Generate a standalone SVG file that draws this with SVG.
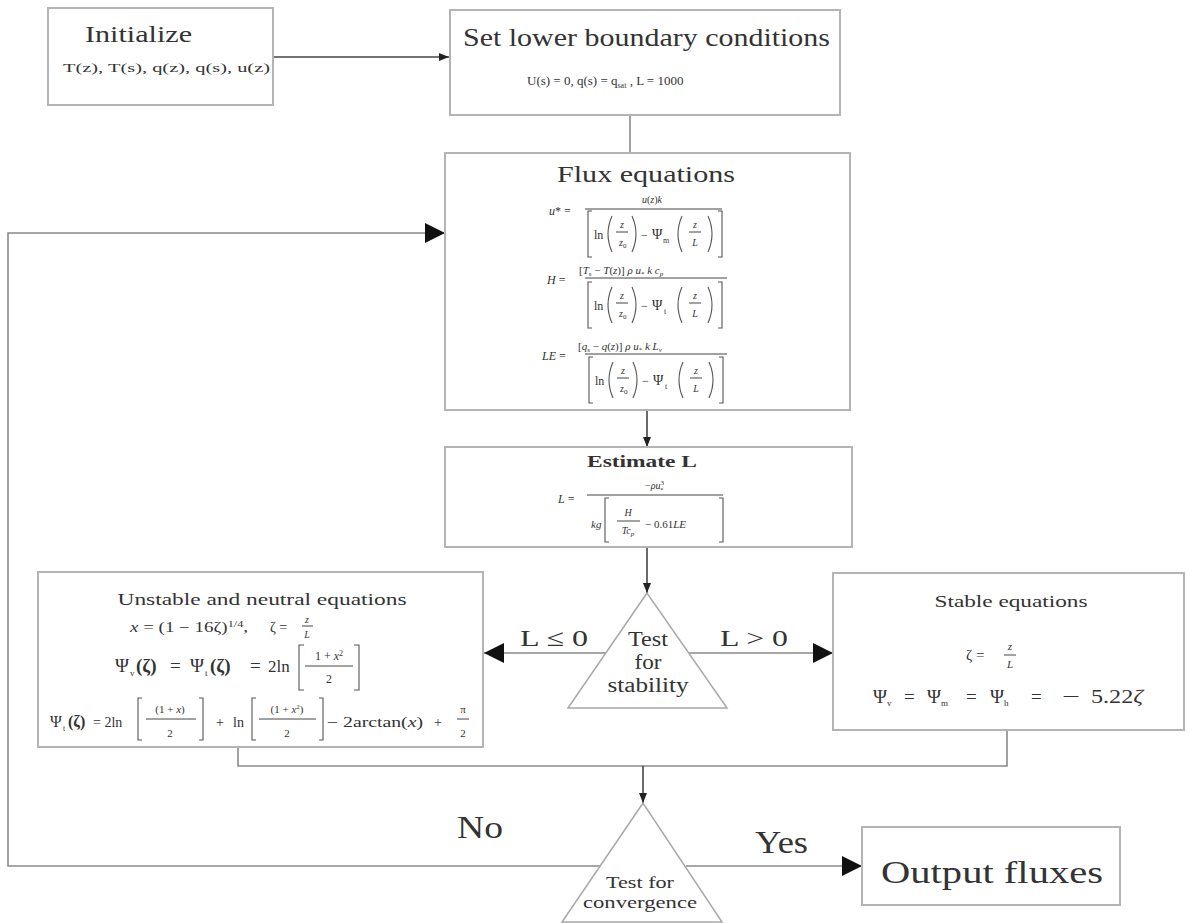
<svg xmlns="http://www.w3.org/2000/svg" width="1188" height="923" viewBox="0 0 1188 923">
<defs>
<style>
.box{fill:#fff;stroke:#b4b4b4;stroke-width:2}
.tri{fill:#fff;stroke:#a8a8a8;stroke-width:1.5}
.conn{fill:none;stroke:#8a8a8a;stroke-width:1.6}
.dark{stroke:#444}
.t{font-family:"Liberation Serif","Times New Roman",serif;fill:#333}
.i{font-style:italic}
.bar{stroke:#444;stroke-width:1}
.br{fill:none;stroke:#555;stroke-width:1.1}
</style>
<marker id="ah" viewBox="0 0 10 8" refX="10" refY="4" markerWidth="10" markerHeight="8" markerUnits="userSpaceOnUse" orient="auto"><path d="M0,0 L10,4 L0,8 z" fill="#222"/></marker>
<marker id="big" viewBox="0 0 20 20" refX="20" refY="10" markerWidth="20" markerHeight="20" markerUnits="userSpaceOnUse" orient="auto"><path d="M0,0 L20,10 L0,20 z" fill="#111"/></marker>
<g id="den">
<path class="br" d="M5,0 H1 V46 H5"/>
<path class="br" d="M131,0 H135 V46 H131"/>
<text class="t" x="7" y="28" font-size="12">ln</text>
<path class="br" d="M25,5 Q17,23 25,41"/>
<path class="br" d="M45,5 Q53,23 45,41"/>
<text class="t i" x="35" y="17" font-size="10" text-anchor="middle">z</text>
<line class="bar" x1="29" y1="21" x2="41" y2="21"/>
<text class="t i" x="32" y="35" font-size="10">z<tspan font-size="7" dy="2" font-style="normal">0</tspan></text>
<text class="t" x="54" y="28" font-size="12">−</text>
<text class="t" x="65" y="28" font-size="14">Ψ</text>
<path class="br" d="M95,5 Q87,23 95,41"/>
<path class="br" d="M121,5 Q129,23 121,41"/>
<text class="t i" x="108" y="17" font-size="10" text-anchor="middle">z</text>
<line class="bar" x1="102" y1="21" x2="114" y2="21"/>
<text class="t i" x="108" y="35" font-size="10" text-anchor="middle">L</text>
</g>
</defs>
<rect width="1188" height="923" fill="#fff"/>

<g id="connectors">
<path class="conn dark" d="M273,57 H449" marker-end="url(#ah)"/>
<path class="conn" d="M630,115 V153"/>
<path class="conn dark" d="M647,410 V447" marker-end="url(#ah)"/>
<path class="conn dark" d="M647,547 V593" marker-end="url(#ah)"/>
<path class="conn" d="M606,653 H484" marker-end="url(#big)"/>
<path class="conn" d="M688,653 H833" marker-end="url(#big)"/>
<path class="conn" d="M238,747 V766 H1007 V730"/>
<path class="conn dark" d="M643,766 V803" marker-end="url(#ah)"/>
<path class="conn" d="M600,866 H8 V233 H445" marker-end="url(#big)"/>
<path class="conn" d="M686,866 H862" marker-end="url(#big)"/>
</g>

<g id="initialize">
<rect class="box" x="48" y="8" width="225" height="97"/>
<text class="t" x="85" y="42" font-size="24" textLength="107" lengthAdjust="spacingAndGlyphs">Initialize</text>
<text class="t" x="63" y="72" font-size="12" textLength="207" lengthAdjust="spacingAndGlyphs">T(z), T(s), q(z), q(s),  u(z)</text>
</g>

<g id="boundary">
<rect class="box" x="450" y="10" width="390" height="105"/>
<text class="t" x="463" y="46" font-size="25" textLength="367" lengthAdjust="spacingAndGlyphs">Set lower boundary conditions</text>
<text class="t" x="527" y="85" font-size="13">U(s) = 0, q(s) = q<tspan font-size="8" dy="3">sat</tspan><tspan dy="-3"> , L = 1000</tspan></text>
</g>

<g id="flux">
<rect class="box" x="445" y="153" width="405" height="257"/>
<text class="t" x="557" y="182" font-size="24" textLength="178" lengthAdjust="spacingAndGlyphs">Flux equations</text>
<text class="t" x="549" y="215" font-size="12"><tspan class="i">u</tspan>* =</text>
<text class="t" x="652" y="203" font-size="10" text-anchor="middle"><tspan class="i">u</tspan>(<tspan class="i">z</tspan>)<tspan class="i">k</tspan></text>
<line class="bar" x1="585" y1="209" x2="722" y2="209"/>
<use href="#den" x="587" y="211"/>
<text class="t" x="663" y="243" font-size="8">m</text>
<text class="t" x="547" y="284" font-size="12"><tspan class="i">H</tspan> =</text>
<text class="t" x="579" y="274" font-size="11">[<tspan class="i">T</tspan><tspan font-size="7" dy="2">s</tspan><tspan dy="-2"> − </tspan><tspan class="i">T</tspan>(<tspan class="i">z</tspan>)] <tspan class="i">ρ u</tspan><tspan font-size="7" dy="2">*</tspan><tspan dy="-2"> </tspan><tspan class="i">k c</tspan><tspan font-size="7" dy="2" class="i">p</tspan></text>
<line class="bar" x1="585" y1="278" x2="727" y2="278"/>
<use href="#den" x="587" y="282"/>
<text class="t" x="664" y="314" font-size="8">t</text>
<text class="t" x="542" y="360" font-size="12"><tspan class="i">LE</tspan> =</text>
<text class="t" x="578" y="350" font-size="11">[<tspan class="i">q</tspan><tspan font-size="7" dy="2">s</tspan><tspan dy="-2"> − </tspan><tspan class="i">q</tspan>(<tspan class="i">z</tspan>)] <tspan class="i">ρ u</tspan><tspan font-size="7" dy="2">*</tspan><tspan dy="-2"> </tspan><tspan class="i">k L</tspan><tspan font-size="7" dy="2" class="i">v</tspan></text>
<line class="bar" x1="585" y1="354" x2="727" y2="354"/>
<use href="#den" x="588" y="357"/>
<text class="t" x="665" y="389" font-size="8">t</text>
</g>

<g id="estimate">
<rect class="box" x="445" y="447" width="407" height="100"/>
<text class="t" x="642" y="467" font-size="17" font-weight="bold" text-anchor="middle" textLength="110" lengthAdjust="spacingAndGlyphs">Estimate L</text>
<text class="t" x="558" y="503" font-size="12"><tspan class="i">L</tspan> =</text>
<text class="t" x="645" y="489" font-size="10">−<tspan class="i">ρu</tspan><tspan font-size="7" dy="-4">3</tspan><tspan font-size="7" dx="-4" dy="7">*</tspan></text>
<line class="bar" x1="587" y1="495" x2="723" y2="495"/>
<text class="t i" x="591" y="528" font-size="11">kg</text>
<path class="br" d="M609,498 H605 V542 H609"/>
<path class="br" d="M719,498 H723 V542 H719"/>
<text class="t i" x="628" y="516" font-size="10" text-anchor="middle">H</text>
<line class="bar" x1="617" y1="521" x2="640" y2="521"/>
<text class="t i" x="628" y="534" font-size="10" text-anchor="middle">Tc<tspan font-size="7" dy="2">p</tspan></text>
<text class="t" x="645" y="528" font-size="11">− 0.61<tspan class="i">LE</tspan></text>
</g>

<g id="stability">
<polygon class="tri" points="647,593 568,708 727,708"/>
<text class="t" x="648" y="646" font-size="20" text-anchor="middle" textLength="40" lengthAdjust="spacingAndGlyphs">Test</text>
<text class="t" x="648" y="669" font-size="20" text-anchor="middle" textLength="27" lengthAdjust="spacingAndGlyphs">for</text>
<text class="t" x="648" y="692" font-size="20" text-anchor="middle" textLength="81" lengthAdjust="spacingAndGlyphs">stability</text>
</g>

<g id="unstable">
<rect class="box" x="38" y="572" width="445" height="175"/>
<text class="t" x="262" y="605" font-size="16" text-anchor="middle" textLength="289" lengthAdjust="spacingAndGlyphs">Unstable and neutral equations</text>
<text class="t" x="130" y="632" font-size="14" textLength="118" lengthAdjust="spacingAndGlyphs"><tspan class="i">x</tspan> = (1 − 16ζ)<tspan font-size="9" dy="-5">1/4</tspan><tspan dy="5">,</tspan></text>
<text class="t" x="270" y="632" font-size="14">ζ =</text>
<text class="t i" x="307" y="623" font-size="10" text-anchor="middle">z</text>
<line class="bar" x1="302" y1="626" x2="313" y2="626"/>
<text class="t i" x="307" y="638" font-size="10" text-anchor="middle">L</text>
<text class="t" x="115" y="672" font-size="19">Ψ</text>
<text class="t" x="130" y="676" font-size="9">v</text>
<text class="t" x="136" y="672" font-size="19" font-weight="bold">(ζ)</text>
<text class="t" x="170" y="672" font-size="19">=</text>
<text class="t" x="190" y="672" font-size="19">Ψ</text>
<text class="t" x="205" y="676" font-size="9">t</text>
<text class="t" x="210" y="672" font-size="19" font-weight="bold">(ζ)</text>
<text class="t" x="250" y="672" font-size="19">=</text>
<text class="t" x="268" y="672" font-size="17">2ln</text>
<path class="br" d="M304,645 H299 V690 H304"/>
<path class="br" d="M354,645 H359 V690 H354"/>
<text class="t" x="329" y="660" font-size="12" text-anchor="middle">1 + <tspan class="i">x</tspan><tspan font-size="8" dy="-4">2</tspan></text>
<line class="bar" x1="305" y1="666" x2="353" y2="666"/>
<text class="t" x="329" y="683" font-size="12" text-anchor="middle">2</text>
<text class="t" x="50" y="727" font-size="16">Ψ</text>
<text class="t" x="63" y="731" font-size="8">t</text>
<text class="t" x="68" y="727" font-size="16" font-weight="bold">(ζ)</text>
<text class="t" x="93" y="727" font-size="14">= 2ln</text>
<path class="br" d="M142,698 H138 V740 H142"/>
<path class="br" d="M199,698 H203 V740 H199"/>
<text class="t" x="170" y="713" font-size="11" text-anchor="middle">(1 + <tspan class="i">x</tspan>)</text>
<line class="bar" x1="146" y1="719" x2="196" y2="719"/>
<text class="t" x="170" y="737" font-size="11" text-anchor="middle">2</text>
<text class="t" x="220" y="727" font-size="14" text-anchor="middle">+</text>
<text class="t" x="233" y="727" font-size="14">ln</text>
<path class="br" d="M256,698 H252 V740 H256"/>
<path class="br" d="M319,698 H323 V740 H319"/>
<text class="t" x="287" y="713" font-size="11" text-anchor="middle">(1 + <tspan class="i">x</tspan><tspan font-size="7" dy="-4">2</tspan><tspan dy="4">)</tspan></text>
<line class="bar" x1="259" y1="719" x2="316" y2="719"/>
<text class="t" x="287" y="737" font-size="11" text-anchor="middle">2</text>
<text class="t" x="327" y="727" font-size="14" textLength="96" lengthAdjust="spacingAndGlyphs">− 2arctan(<tspan class="i">x</tspan>)</text>
<text class="t" x="438" y="727" font-size="14" text-anchor="middle">+</text>
<text class="t" x="463" y="713" font-size="11" text-anchor="middle">π</text>
<line class="bar" x1="457" y1="719" x2="469" y2="719"/>
<text class="t" x="463" y="737" font-size="11" text-anchor="middle">2</text>
</g>

<g id="stable">
<rect class="box" x="833" y="573" width="351" height="157"/>
<text class="t" x="1011" y="607" font-size="16" text-anchor="middle" textLength="153" lengthAdjust="spacingAndGlyphs">Stable equations</text>
<text class="t" x="966" y="660" font-size="15">ζ =</text>
<text class="t i" x="1010" y="650" font-size="11" text-anchor="middle">z</text>
<line class="bar" x1="1004" y1="655" x2="1016" y2="655"/>
<text class="t i" x="1010" y="668" font-size="11" text-anchor="middle">L</text>
<text class="t" x="873" y="703" font-size="19">Ψ<tspan font-size="9" dy="3">v</tspan></text>
<text class="t" x="904" y="703" font-size="19">=</text>
<text class="t" x="927" y="703" font-size="19">Ψ<tspan font-size="9" dy="3">m</tspan></text>
<text class="t" x="966" y="703" font-size="19">=</text>
<text class="t" x="990" y="703" font-size="19">Ψ<tspan font-size="9" dy="3">h</tspan></text>
<text class="t" x="1031" y="703" font-size="19">=</text>
<text class="t" x="1062" y="703" font-size="19" textLength="18" lengthAdjust="spacingAndGlyphs">−</text>
<text class="t" x="1091" y="703" font-size="19" textLength="52" lengthAdjust="spacingAndGlyphs">5.22<tspan class="i">ζ</tspan></text>
</g>

<g id="labels">
<text class="t" x="520" y="646" font-size="24" textLength="68" lengthAdjust="spacingAndGlyphs">L ≤ 0</text>
<text class="t" x="720" y="646" font-size="24" textLength="68" lengthAdjust="spacingAndGlyphs">L &gt; 0</text>
<text class="t" x="457" y="838" font-size="32" textLength="46" lengthAdjust="spacingAndGlyphs">No</text>
<text class="t" x="755" y="853" font-size="32" textLength="53" lengthAdjust="spacingAndGlyphs">Yes</text>
</g>

<g id="convergence">
<polygon class="tri" points="643,803 562,922 722,922"/>
<text class="t" x="640" y="888" font-size="17" text-anchor="middle" textLength="68" lengthAdjust="spacingAndGlyphs">Test for</text>
<text class="t" x="640" y="908" font-size="17" text-anchor="middle" textLength="114" lengthAdjust="spacingAndGlyphs">convergence</text>
</g>

<g id="output">
<rect class="box" x="862" y="827" width="258" height="78"/>
<text class="t" x="992" y="883" font-size="32" text-anchor="middle" textLength="222" lengthAdjust="spacingAndGlyphs">Output fluxes</text>
</g>
</svg>
